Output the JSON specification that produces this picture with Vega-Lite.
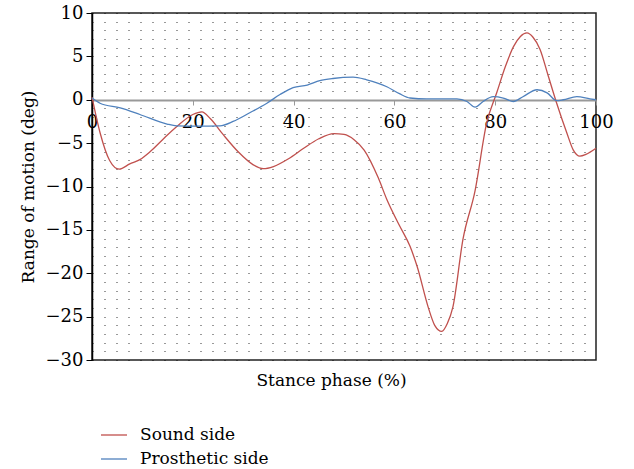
{
  "$schema": "https://vega.github.io/schema/vega-lite/v6.json",
  "width": 504,
  "height": 347,
  "autosize": {"type": "none"},
  "padding": {"left": 92, "top": 13, "right": 38, "bottom": 109},
  "background": "white",
  "config": {
    "font": "DejaVu Serif",
    "view": {"stroke": "#222", "strokeWidth": 1.5}
  },
  "data": {
    "values": [
      {"x": 0, "y": 0.3, "side": "Sound side"},
      {"x": 1.6, "y": -3.8, "side": "Sound side"},
      {"x": 3.5, "y": -7.0, "side": "Sound side"},
      {"x": 5.4, "y": -8.0, "side": "Sound side"},
      {"x": 7.5, "y": -7.4, "side": "Sound side"},
      {"x": 9.5, "y": -6.9, "side": "Sound side"},
      {"x": 11.5, "y": -6.0, "side": "Sound side"},
      {"x": 14, "y": -4.6, "side": "Sound side"},
      {"x": 17, "y": -3.0, "side": "Sound side"},
      {"x": 20, "y": -1.7, "side": "Sound side"},
      {"x": 21.8, "y": -1.4, "side": "Sound side"},
      {"x": 23.5, "y": -2.2, "side": "Sound side"},
      {"x": 26, "y": -4.0, "side": "Sound side"},
      {"x": 29, "y": -6.0, "side": "Sound side"},
      {"x": 32, "y": -7.5, "side": "Sound side"},
      {"x": 34, "y": -7.95, "side": "Sound side"},
      {"x": 36, "y": -7.7, "side": "Sound side"},
      {"x": 39, "y": -6.8, "side": "Sound side"},
      {"x": 42, "y": -5.6, "side": "Sound side"},
      {"x": 45, "y": -4.5, "side": "Sound side"},
      {"x": 48, "y": -3.9, "side": "Sound side"},
      {"x": 50, "y": -4.0, "side": "Sound side"},
      {"x": 52, "y": -4.6, "side": "Sound side"},
      {"x": 54, "y": -5.8, "side": "Sound side"},
      {"x": 56.8, "y": -9.0, "side": "Sound side"},
      {"x": 58.5, "y": -11.5, "side": "Sound side"},
      {"x": 61, "y": -14.5, "side": "Sound side"},
      {"x": 63.1, "y": -16.9, "side": "Sound side"},
      {"x": 64.5, "y": -19.2, "side": "Sound side"},
      {"x": 66.7, "y": -23.9, "side": "Sound side"},
      {"x": 68, "y": -26.0, "side": "Sound side"},
      {"x": 69.4, "y": -26.7, "side": "Sound side"},
      {"x": 70.5, "y": -25.8, "side": "Sound side"},
      {"x": 71.6, "y": -23.9, "side": "Sound side"},
      {"x": 73.6, "y": -16.1, "side": "Sound side"},
      {"x": 76, "y": -10.5, "side": "Sound side"},
      {"x": 78.3, "y": -2.7, "side": "Sound side"},
      {"x": 80.3, "y": 0.8, "side": "Sound side"},
      {"x": 82, "y": 3.8, "side": "Sound side"},
      {"x": 83.6, "y": 6.1, "side": "Sound side"},
      {"x": 85, "y": 7.3, "side": "Sound side"},
      {"x": 86.3, "y": 7.7, "side": "Sound side"},
      {"x": 87.5, "y": 7.2, "side": "Sound side"},
      {"x": 88.9, "y": 5.8, "side": "Sound side"},
      {"x": 90.5, "y": 2.8, "side": "Sound side"},
      {"x": 92.2, "y": -0.4, "side": "Sound side"},
      {"x": 94.2, "y": -3.8, "side": "Sound side"},
      {"x": 95.5, "y": -5.8, "side": "Sound side"},
      {"x": 96.8, "y": -6.5, "side": "Sound side"},
      {"x": 98, "y": -6.3, "side": "Sound side"},
      {"x": 100, "y": -5.6, "side": "Sound side"},
      {"x": 0, "y": 0.2, "side": "Prosthetic side"},
      {"x": 1.6, "y": -0.4, "side": "Prosthetic side"},
      {"x": 5.6, "y": -0.95, "side": "Prosthetic side"},
      {"x": 9.5, "y": -1.7, "side": "Prosthetic side"},
      {"x": 14.9, "y": -2.8, "side": "Prosthetic side"},
      {"x": 16.8, "y": -3.0, "side": "Prosthetic side"},
      {"x": 21, "y": -3.05, "side": "Prosthetic side"},
      {"x": 25.4, "y": -3.0, "side": "Prosthetic side"},
      {"x": 28, "y": -2.5, "side": "Prosthetic side"},
      {"x": 31.3, "y": -1.5, "side": "Prosthetic side"},
      {"x": 34.7, "y": -0.4, "side": "Prosthetic side"},
      {"x": 37.3, "y": 0.6, "side": "Prosthetic side"},
      {"x": 39.9, "y": 1.4, "side": "Prosthetic side"},
      {"x": 42.7, "y": 1.7, "side": "Prosthetic side"},
      {"x": 45.2, "y": 2.2, "side": "Prosthetic side"},
      {"x": 47.8, "y": 2.45, "side": "Prosthetic side"},
      {"x": 51.8, "y": 2.6, "side": "Prosthetic side"},
      {"x": 54.5, "y": 2.3, "side": "Prosthetic side"},
      {"x": 58.5, "y": 1.5, "side": "Prosthetic side"},
      {"x": 61, "y": 0.7, "side": "Prosthetic side"},
      {"x": 63.1, "y": 0.2, "side": "Prosthetic side"},
      {"x": 66.4, "y": 0.1, "side": "Prosthetic side"},
      {"x": 72.4, "y": 0.1, "side": "Prosthetic side"},
      {"x": 74.4, "y": -0.2, "side": "Prosthetic side"},
      {"x": 76, "y": -0.85, "side": "Prosthetic side"},
      {"x": 77.6, "y": -0.2, "side": "Prosthetic side"},
      {"x": 79.6, "y": 0.35, "side": "Prosthetic side"},
      {"x": 81.6, "y": 0.2, "side": "Prosthetic side"},
      {"x": 83.6, "y": -0.2, "side": "Prosthetic side"},
      {"x": 85.5, "y": 0.35, "side": "Prosthetic side"},
      {"x": 88.3, "y": 1.15, "side": "Prosthetic side"},
      {"x": 90.3, "y": 0.8, "side": "Prosthetic side"},
      {"x": 92.2, "y": -0.1, "side": "Prosthetic side"},
      {"x": 93.5, "y": 0.0, "side": "Prosthetic side"},
      {"x": 96.2, "y": 0.35, "side": "Prosthetic side"},
      {"x": 98.8, "y": 0.1, "side": "Prosthetic side"},
      {"x": 100, "y": 0.0, "side": "Prosthetic side"}
    ]
  },
  "mark": {"type": "line", "interpolate": "monotone", "strokeWidth": 1.3},
  "encoding": {
    "x": {
      "field": "x",
      "type": "quantitative",
      "scale": {"domain": [0, 100], "nice": false, "zero": false},
      "axis": {
        "values": [0, 20, 40, 60, 80, 100],
        "offset": -260,
        "grid": false,
        "domainColor": "#999",
        "domainWidth": 2,
        "tickColor": "#999",
        "tickSize": 5,
        "labelColor": "black",
        "labelFontSize": 18,
        "labelPadding": 8,
        "labelFlush": false,
        "title": "Stance phase (%)",
        "titleFontSize": 17,
        "titleFontWeight": "normal",
        "titleColor": "black",
        "titleX": 239,
        "titlePadding": 241
      }
    },
    "y": {
      "field": "y",
      "type": "quantitative",
      "scale": {"domain": [-30, 10], "nice": false, "zero": false},
      "axis": {
        "values": [-30, -29, -28, -27, -26, -25, -24, -23, -22, -21, -20, -19, -18, -17, -16, -15, -14, -13, -12, -11, -10, -9, -8, -7, -6, -5, -4, -3, -2, -1, 0, 1, 2, 3, 4, 5, 6, 7, 8, 9, 10],
        "labelExpr": "datum.value % 5 === 0 ? datum.label : ''",
        "tickOpacity": {"condition": {"test": "datum.value % 5 !== 0", "value": 0}, "value": 1},
        "grid": true,
        "gridColor": "#000",
        "gridDash": [1, 11],
        "gridWidth": 1,
        "gridOpacity": 0.8,
        "domainColor": "black",
        "domainWidth": 1.5,
        "tickColor": "black",
        "tickSize": 6,
        "labelColor": "black",
        "labelFontSize": 18,
        "labelPadding": 3,
        "title": "Range of motion (deg)",
        "titleFontSize": 17,
        "titleFontWeight": "normal",
        "titleColor": "black",
        "titlePadding": 8
      }
    },
    "color": {
      "field": "side",
      "type": "nominal",
      "sort": ["Sound side", "Prosthetic side"],
      "scale": {"domain": ["Sound side", "Prosthetic side"], "range": ["#c0504d", "#4f81bd"]},
      "legend": {
        "title": null,
        "orient": "none",
        "legendX": 8,
        "legendY": 408,
        "symbolType": "stroke",
        "symbolSize": 676,
        "symbolStrokeWidth": 1.3,
        "labelFontSize": 17,
        "labelColor": "black",
        "labelOffset": 12,
        "rowPadding": 2
      }
    }
  }
}
